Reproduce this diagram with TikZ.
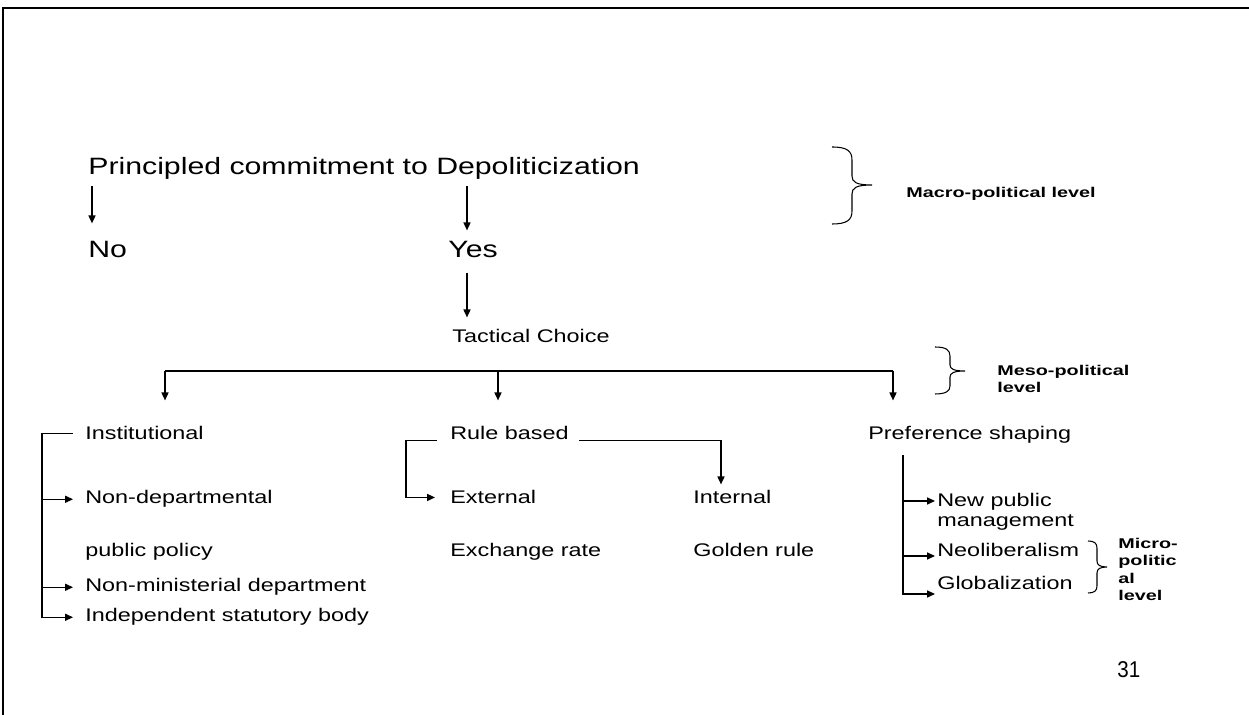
\documentclass[tikz,border=0pt]{standalone}
\usepackage{fontspec}
\setmainfont[FakeStretch=1.28]{Liberation Sans}
\newfontfamily\levelfont[FakeStretch=1.4]{Liberation Sans}
\newfontfamily\pagefont[FakeStretch=0.9]{Liberation Sans}
\usetikzlibrary{arrows.meta, calc}
\tikzset{
  bigT/.style={inner sep=0pt, anchor=base west, font=\fontsize{13.45}{15}\selectfont},
  smallT/.style={inner sep=0pt, anchor=base west, font=\fontsize{10.4}{11.4}\selectfont},
  levelT/.style={inner sep=0pt, anchor=north west, align=left,
                 font=\levelfont\bfseries\fontsize{8.05}{9.9}\selectfont},
  lineK/.style={line width=0.75pt},
  arrowK/.style={lineK, -{Triangle[length=4.5pt, width=4pt]}},
  arrowH/.style={arrowK, shorten >=0.24cm},
  arrowP/.style={arrowK, shorten >=0.04cm},
  braceK/.style={line width=0.6pt},
  frameK/.style={line width=1.4pt},
}
\begin{document}
\begin{tikzpicture}[x=0.02cm, y=-0.02cm]
  \useasboundingbox (0,0) rectangle (1249,715);
  \draw[frameK] (3,715) -- (3,8) -- (1249,8);

  \node[bigT] (pcd) at (88,175) {Principled commitment to Depoliticization};
  \node[bigT] (no) at (88,258) {No};
  \node[bigT] (yes) at (448,258) {Yes};
  \node[smallT] (tac) at (452,343) {Tactical Choice};

  \node[smallT] (inst) at (85,440) {Institutional};
  \node[smallT] (rule) at (450,440) {Rule based};
  \node[smallT] (pref) at (868,440) {Preference shaping};
  \node[smallT] (nondep) at (85,504) {Non-departmental};
  \node[smallT] (ext) at (450,504) {External};
  \node[smallT] (intl) at (693,504) {Internal};
  \node[smallT, anchor=north west, align=left] (newpub) at (937,493) {New public\\management};
  \node[smallT] (pubpol) at (85,557) {public policy};
  \node[smallT] (exch) at (450,557) {Exchange rate};
  \node[smallT] (gold) at (693,557) {Golden rule};
  \node[smallT] (neolib) at (937,557) {Neoliberalism};
  \node[smallT] (nonmin) at (85,592) {Non-ministerial department};
  \node[smallT] (glob) at (937,590) {Globalization};
  \node[smallT] (indep) at (85,622) {Independent statutory body};
  \node[inner sep=0pt, anchor=base west, font=\pagefont\fontsize{13}{15}\selectfont] (pagenum) at (1117,678) {31};

  \node[levelT] (macro) at (906,187) {Macro-political level};
  \node[levelT] (meso) at (997,365) {Meso-political\\level};
  \node[levelT] (micro) at (1118,538) {Micro-\\politic\\al\\level};

  % commitment -> no / yes -> tactical choice
  \coordinate (yx) at ($(yes.north west)+(19,0)$);
  \draw[arrowK] ($(pcd.south west)+(4,6)$) -- ($(no.north west)+(4,-18)$);
  \draw[arrowK] ($(pcd.south -| yx)+(0,6)$) -- ($(yx)+(0,-11)$);
  \draw[arrowK] ($(yes.south -| yx)+(0,14)$) -- ($(tac.north -| yx)+(0,-12)$);

  \coordinate (barL) at (165,371);
  \coordinate (barM) at (498,371);
  \coordinate (barR) at (893,371);
  \draw[lineK] (barL) -- (barR);
  \foreach \c/\n in {barL/inst, barM/rule, barR/pref}
    \draw[arrowK] (\c) -- ($(\n.north -| \c)+(0,-26)$);

  % institutional
  \coordinate (ispine) at ($(inst.west)+(-43,0)$);
  \draw[arrowH] ($(inst.west)+(-12,0)$) -- (ispine) |- (indep.west);
  \foreach \n in {nondep, nonmin}
    \draw[arrowH] (ispine |- \n.west) -- (\n.west);

  % rule based
  \coordinate (rspine) at ($(rule.south west)+(-44,0)$);
  \draw[arrowK, shorten >=0.3cm] ($(rule.south west)+(-13,0)$) -- (rspine) |- (ext.west);
  \draw[arrowK] ($(rule.south east)+(10,0)$) -| ($(intl.north west)+(28,-6)$);

  % preference shaping
  \coordinate (pspine) at ($(pref.south west)+(35,11)$);
  \draw[arrowP] (pspine) |- ($(glob.base west)+(0,4)$);
  \draw[arrowP] ($(pspine |- newpub.north)+(0,8)$) -- ($(newpub.north west)+(0,8)$);
  \draw[arrowP] ($(pspine |- neolib.base)+(0,-1)$) -- ($(neolib.base west)+(0,-1)$);

  % level braces
  \draw[braceK] (832,147) .. controls (847,147) and (852,151) .. (852,160) -- (852,176)
    .. controls (852,182) and (856,185) .. (872,185) .. controls (856,185) and (852,188) .. (852,194)
    -- (852,211) .. controls (852,220) and (847,224) .. (832,224);
  \draw[braceK] (935,347) .. controls (946,347) and (950,350) .. (950,356) -- (950,365)
    .. controls (950,369) and (954,371) .. (965,371) .. controls (954,371) and (950,373) .. (950,377)
    -- (950,386) .. controls (950,391) and (946,394) .. (935,394);
  \draw[braceK] (1088,541) .. controls (1094,541) and (1097,543) .. (1097,548) -- (1097,561)
    .. controls (1097,565) and (1100,567) .. (1107,567) .. controls (1100,567) and (1097,569) .. (1097,573)
    -- (1097,586) .. controls (1097,591) and (1094,593) .. (1088,593);
\end{tikzpicture}
\end{document}
